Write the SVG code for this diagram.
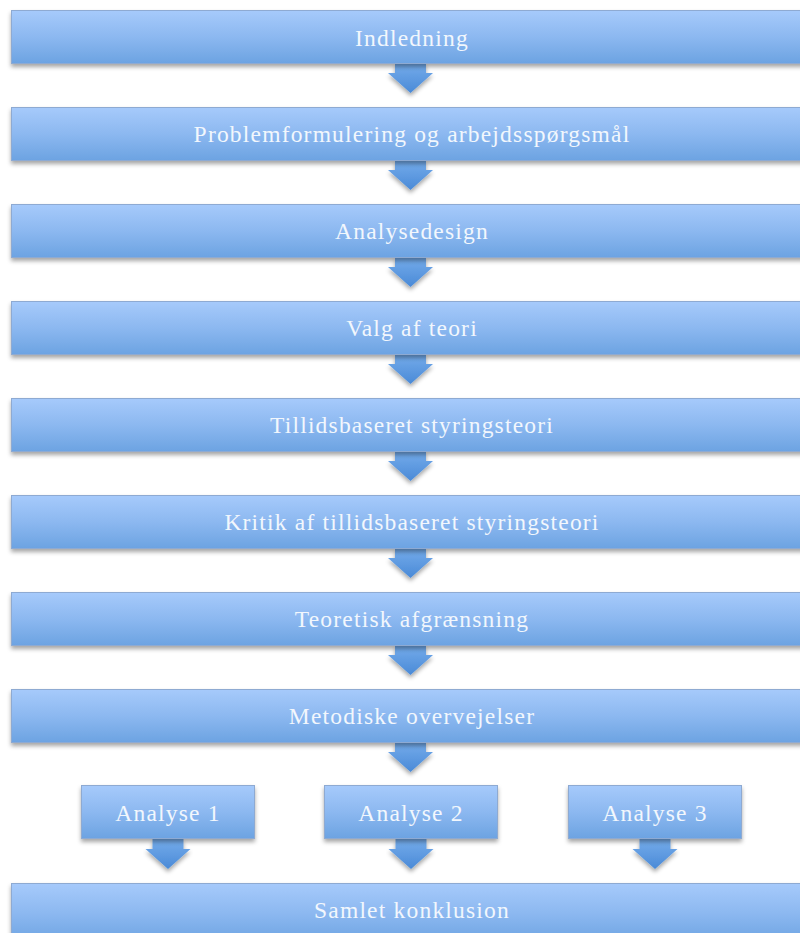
<svg xmlns="http://www.w3.org/2000/svg" width="800" height="933" viewBox="0 0 800 933">
<defs>
<linearGradient id="boxGrad" x1="0" y1="0" x2="0" y2="1">
<stop offset="0" stop-color="#a6cafb"/>
<stop offset="0.5" stop-color="#8cb8f0"/>
<stop offset="1" stop-color="#6ca3e2"/>
</linearGradient>
<linearGradient id="arrGrad" x1="0" y1="0" x2="0" y2="1">
<stop offset="0" stop-color="#75aceb"/>
<stop offset="1" stop-color="#4a8ad7"/>
</linearGradient>
<filter id="shadow" x="-5%" y="-20%" width="110%" height="160%">
<feDropShadow dx="0" dy="3" stdDeviation="2" flood-color="#000" flood-opacity="0.35"/>
</filter>
<path id="arrow" d="M-15.5,0 H15.5 V10 H22.5 L0,30 L-22.5,10 H-15.5 Z"/>
</defs>
<style>
.box{fill:url(#boxGrad);stroke:#8eaad2;stroke-width:1;filter:url(#shadow)}
.arr{fill:url(#arrGrad);filter:url(#shadow)}
.lbl{font-family:"Liberation Serif","Times New Roman",serif;font-size:23.5px;fill:#f2f7fd;text-anchor:middle;letter-spacing:1.2px}
</style>
<rect width="800" height="933" fill="#ffffff"/>
<g id="connectors">
<use href="#arrow" class="arr" x="410.5" y="63"/>
<use href="#arrow" class="arr" x="410.5" y="160"/>
<use href="#arrow" class="arr" x="410.5" y="257"/>
<use href="#arrow" class="arr" x="410.5" y="354"/>
<use href="#arrow" class="arr" x="410.5" y="451"/>
<use href="#arrow" class="arr" x="410.5" y="548"/>
<use href="#arrow" class="arr" x="410.5" y="645"/>
<use href="#arrow" class="arr" x="410.5" y="742"/>
<use href="#arrow" class="arr" x="168" y="839"/>
<use href="#arrow" class="arr" x="411" y="839"/>
<use href="#arrow" class="arr" x="655" y="839"/>
</g>
<g id="n1"><rect class="box" x="11.5" y="10.5" width="800" height="53"/><text class="lbl" x="412" y="46">Indledning</text></g>
<g id="n2"><rect class="box" x="11.5" y="107.5" width="800" height="53"/><text class="lbl" x="412" y="142">Problemformulering og arbejdsspørgsmål</text></g>
<g id="n3"><rect class="box" x="11.5" y="204.5" width="800" height="53"/><text class="lbl" x="412" y="239">Analysedesign</text></g>
<g id="n4"><rect class="box" x="11.5" y="301.5" width="800" height="53"/><text class="lbl" x="412" y="336">Valg af teori</text></g>
<g id="n5"><rect class="box" x="11.5" y="398.5" width="800" height="53"/><text class="lbl" x="412" y="433">Tillidsbaseret styringsteori</text></g>
<g id="n6"><rect class="box" x="11.5" y="495.5" width="800" height="53"/><text class="lbl" x="412" y="530">Kritik af tillidsbaseret styringsteori</text></g>
<g id="n7"><rect class="box" x="11.5" y="592.5" width="800" height="53"/><text class="lbl" x="412" y="627">Teoretisk afgrænsning</text></g>
<g id="n8"><rect class="box" x="11.5" y="689.5" width="800" height="53"/><text class="lbl" x="412" y="724">Metodiske overvejelser</text></g>
<g id="a1"><rect class="box" x="81.5" y="785.5" width="173" height="53"/><text class="lbl" x="168" y="821">Analyse 1</text></g>
<g id="a2"><rect class="box" x="324.5" y="785.5" width="173" height="53"/><text class="lbl" x="411" y="821">Analyse 2</text></g>
<g id="a3"><rect class="box" x="568.5" y="785.5" width="173" height="53"/><text class="lbl" x="655" y="821">Analyse 3</text></g>
<g id="n9"><rect class="box" x="11.5" y="883.5" width="800" height="60"/><text class="lbl" x="412" y="918">Samlet konklusion</text></g>
</svg>
